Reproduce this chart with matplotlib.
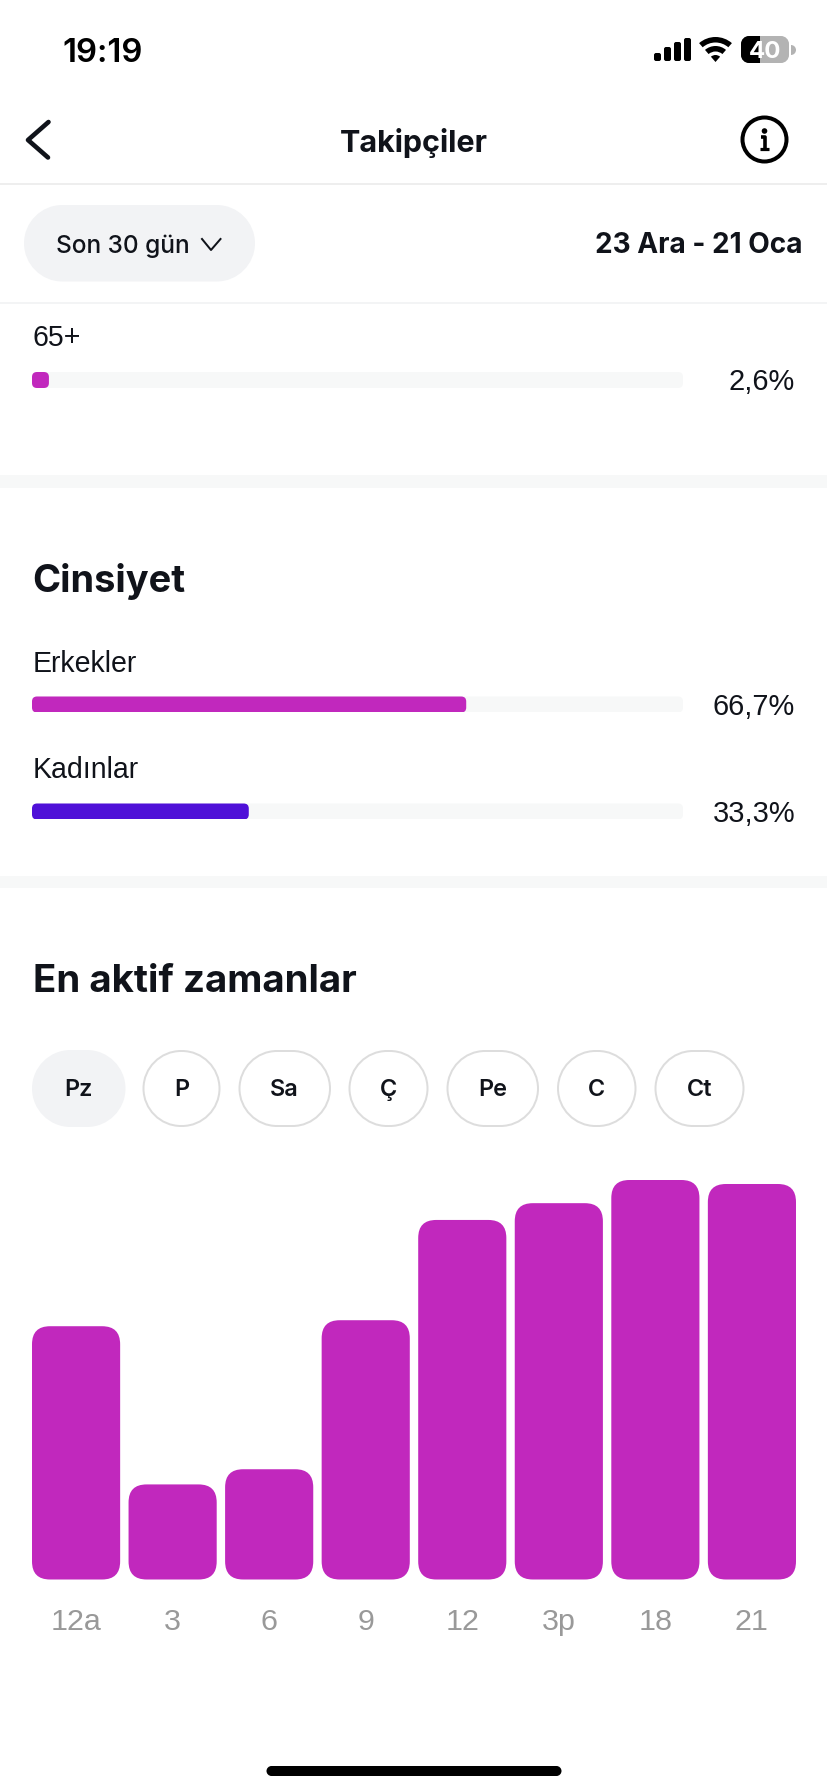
import matplotlib
matplotlib.use("Agg")
import matplotlib.pyplot as plt
from matplotlib.path import Path
from matplotlib.patches import Circle, FancyBboxPatch, PathPatch, Rectangle, Wedge

W, H = 828, 1792
INK = "#10131a"
GREY_LABEL = "#999999"
MAGENTA = "#c128bd"
VIOLET = "#4f10d8"
TRACK = "#f7f8f8"
PILL = "#f2f3f5"

# data
age_label = ["65+"]
age_values = [2.6]
age_text = ["2,6%"]
gender_labels = ["Erkekler", "Kadınlar"]
gender_values = [66.7, 33.3]
gender_text = ["66,7%", "33,3%"]
gender_colors = [MAGENTA, VIOLET]
day_labels = ["Pz", "P", "Sa", "Ç", "Pe", "C", "Ct"]
hour_labels = ["12a", "3", "6", "9", "12", "3p", "18", "21"]
hour_values = [63.4, 23.8, 27.6, 64.9, 90.0, 94.2, 100.0, 99.0]

plt.rcParams["font.family"] = ["Inter", "Liberation Sans", "DejaVu Sans"]


def px(size):
    return size * 0.72  # px at dpi 100 to points


def pixel_axes(fig, left, top, right, bottom):
    return fig.add_axes([left / W, 1 - bottom / H, (right - left) / W, (bottom - top) / H])


def pill(ax, x0, y0, x1, y1, r=None, **kw):
    # cubic corners, FancyBboxPatch "round" comes out too square for the chips
    r = min(y1 - y0, x1 - x0) / 2 if r is None else r
    k = r * 0.45
    verts = [(x0 + r, y0), (x1 - r, y0),
             (x1 - r + (r - k), y0), (x1, y0 + k), (x1, y0 + r),
             (x1, y1 - r),
             (x1, y1 - k), (x1 - k, y1), (x1 - r, y1),
             (x0 + r, y1),
             (x0 + k, y1), (x0, y1 - k), (x0, y1 - r),
             (x0, y0 + r),
             (x0, y0 + k), (x0 + k, y0), (x0 + r, y0),
             (x0 + r, y0)]
    codes = [Path.MOVETO, Path.LINETO,
             Path.CURVE4, Path.CURVE4, Path.CURVE4,
             Path.LINETO,
             Path.CURVE4, Path.CURVE4, Path.CURVE4,
             Path.LINETO,
             Path.CURVE4, Path.CURVE4, Path.CURVE4,
             Path.LINETO,
             Path.CURVE4, Path.CURVE4, Path.CURVE4,
             Path.CLOSEPOLY]
    p = PathPatch(Path(verts, codes), **kw)
    ax.add_patch(p)
    return p


def progress_row(fig, ui, y_label, y_bar, label, value, text, color):
    ui.text(33, y_label, label, fontsize=px(28.5), color=INK, va="center", ha="left",
            family=["Liberation Sans"])
    ui.text(795, y_bar + 2.5, text, fontsize=px(29), color=INK, va="center", ha="right",
            family=["Liberation Sans"])
    ax = pixel_axes(fig, 32, y_bar - 8, 683, y_bar + 8)
    ax.set_xlim(0, 100)
    ax.set_ylim(0, 1)
    ax.axis("off")
    aspect = (651 / 100) / 16  # data y per data x, keeps corners round in pixels
    r = 5 / (651 / 100)
    for width, col in ((100, TRACK), (value, color)):
        ax.add_patch(FancyBboxPatch((0, 0), width, 1, mutation_aspect=aspect, fc=col, ec="none",
                                    boxstyle=f"round,pad=0,rounding_size={r}"))


fig = plt.figure(figsize=(W / 100, H / 100), dpi=100, facecolor="white")

# screen chrome, in pixel coordinates
ui = fig.add_axes([0, 0, 1, 1])
ui.set_xlim(0, W)
ui.set_ylim(H, 0)
ui.axis("off")

# status bar
ui.text(62.5, 53, "19:19", fontsize=px(33), fontweight="semibold", color="black", va="center")
for x, top in zip((654, 664, 674, 684), (53, 47, 42, 38)):
    pill(ui, x, top, x + 7, 61, r=2, fc="black", ec="none")
ui.add_patch(Wedge((715.5, 62), 25, 229, 311, width=5.5, fc="black", ec="none"))
ui.add_patch(Wedge((715.5, 62), 16, 229, 311, width=5.5, fc="black", ec="none"))
ui.add_patch(Wedge((715.5, 62), 7, 229, 311, fc="black", ec="none"))
pill(ui, 741, 36, 789, 63, r=8, fc="#b3b3b3", ec="none")
batt = pill(ui, 741, 36, 789, 63, r=8, fc="black", ec="none")
batt.set_clip_path(Rectangle((741, 36), 19, 27, transform=ui.transData))
ui.add_patch(Wedge((791, 50), 5, -90, 90, fc="#b3b3b3", ec="none"))
ui.text(765, 52, "40", fontsize=px(24), fontweight="bold", color="white", ha="center", va="center")

# header
ui.plot([48.5, 28, 48], [122, 140, 157.5], color=INK, lw=px(4.6), solid_capstyle="round",
        solid_joinstyle="round")
ui.text(414, 142.5, "Takipçiler", fontsize=px(30.5), fontweight="bold", color=INK,
        ha="center", va="center")
ui.add_patch(Circle((764.5, 139.5), 22, fc="none", ec="black", lw=px(4)))
ui.add_patch(Circle((764.5, 131), 2.8, fc="black", ec="none"))
ui.plot([761, 765, 765], [137.5, 137.5, 149], color="black", lw=px(3.6), solid_capstyle="butt")
ui.plot([760.5, 769.5], [149, 149], color="black", lw=px(3.2), solid_capstyle="butt")
ui.axhline(184, color="#e9e9e9", lw=px(1.5))

pill(ui, 24, 205, 255, 281.5, fc=PILL, ec="none")
ui.text(56.5, 246, "Son 30 gün", fontsize=px(24.5), fontweight="medium", color=INK, va="center")
ui.plot([202, 211, 220.5], [239, 250, 239], color=INK, lw=px(2))
ui.text(803, 245.5, "23 Ara - 21 Oca", fontsize=px(28), fontweight="bold", color=INK,
        ha="right", va="center")
ui.axhline(303, color="#f3f4f5", lw=px(2))

# section bands
for y0, y1 in ((475, 488), (876, 888)):
    ui.add_patch(Rectangle((0, y0), W, y1 - y0, fc="#f7f8f8", ec="none"))

progress_row(fig, ui, 338, 380, age_label[0], age_values[0], age_text[0], MAGENTA)

ui.text(32.5, 581.5, "Cinsiyet", fontsize=px(38), fontweight="bold", color=INK, va="center")
for lab, val, txt, col, yl, yb in zip(gender_labels, gender_values, gender_text, gender_colors,
                                      (664, 770), (704.5, 811.5)):
    progress_row(fig, ui, yl, yb, lab, val, txt, col)

ui.text(33, 981.5, "En aktif zamanlar", fontsize=px(38.5), fontweight="bold", color=INK, va="center")

# day chips
chip_edges = [(32, 125.5), (142.5, 220.5), (238.5, 331), (348.5, 428.5), (446.5, 539),
              (557, 636.5), (654.5, 744.5)]
for i, (lab, (x0, x1)) in enumerate(zip(day_labels, chip_edges)):
    if i == 0:
        pill(ui, x0, 1050, x1, 1127, fc=PILL, ec="none")
    else:
        pill(ui, x0 + 1, 1051, x1 - 1, 1126, fc="white", ec="#dddddd", lw=px(2))
    ui.text((x0 + x1) / 2, 1090, lab, fontsize=px(23.5), fontweight="semibold", color=INK,
            ha="center", va="center")

# home indicator
pill(ui, 266.5, 1766, 561.5, 1776, fc="black", ec="none")

# hourly bars
ax = pixel_axes(fig, 32, 1180, 796, 1579.5)
ax.patch.set_alpha(0)
ax.set_xlim(-0.4565, 7.4565)
ax.set_ylim(0, 100)
for s in ax.spines.values():
    s.set_visible(False)
ax.yaxis.set_visible(False)
ax.set_xticks(range(len(hour_labels)), hour_labels, family=["Liberation Sans"], fontsize=px(30.5),
              color=GREY_LABEL)
ax.tick_params(axis="x", length=0, pad=px(28))

bar_w = 0.913
x_per_px = 7.913 / 764
y_per_px = 100 / 399.5
for i, v in enumerate(hour_values):
    ax.add_patch(FancyBboxPatch((i - bar_w / 2, 0), bar_w, v, fc=MAGENTA, ec="none",
                                mutation_aspect=y_per_px / x_per_px,
                                boxstyle=f"round,pad=0,rounding_size={18 * x_per_px}"))

fig.savefig("out.png", dpi=100, facecolor="white")
